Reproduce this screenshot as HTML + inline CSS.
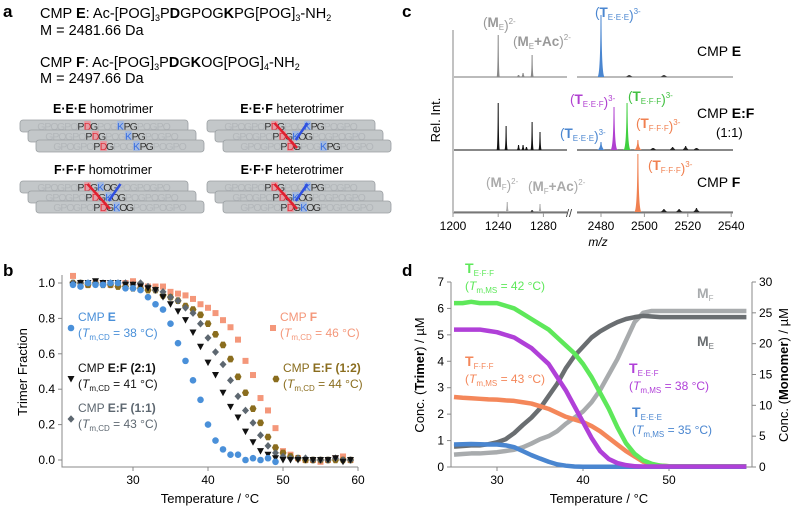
<!DOCTYPE html>
<html><head><meta charset="utf-8"><style>
body{margin:0;background:#fff}
svg{font-family:"Liberation Sans",sans-serif}
</style></head><body>
<svg id="fig" width="797" height="510" viewBox="0 0 797 510" xmlns="http://www.w3.org/2000/svg">
<g>
<text x="3" y="17" font-size="17" font-weight="bold">a</text>
<text x="40" y="18" font-size="14.5">CMP <tspan font-weight="bold">E</tspan>:  Ac-[POG]<tspan font-size="9" dy="3">3</tspan><tspan dy="-3">P</tspan><tspan font-weight="bold">D</tspan>GPOG<tspan font-weight="bold">K</tspan>PG[POG]<tspan font-size="9" dy="3">3</tspan><tspan dy="-3">-NH</tspan><tspan font-size="9" dy="3">2</tspan></text>
<text x="40" y="35" font-size="14.5">M = 2481.66 Da</text>
<text x="40" y="67" font-size="14.5">CMP <tspan font-weight="bold">F</tspan>:  Ac-[POG]<tspan font-size="9" dy="3">3</tspan><tspan dy="-3">P</tspan><tspan font-weight="bold">D</tspan>G<tspan font-weight="bold">K</tspan>OG[POG]<tspan font-size="9" dy="3">4</tspan><tspan dy="-3">-NH</tspan><tspan font-size="9" dy="3">2</tspan></text>
<text x="40" y="83" font-size="14.5">M = 2497.66 Da</text>
<g id="trimers"></g>
</g>
<g>
<text x="3" y="276" font-size="17" font-weight="bold">b</text>
<g id="bplot"></g>
</g>
<g>
<text x="402" y="17" font-size="17" font-weight="bold">c</text>
<g id="cplot"></g>
</g>
<g>
<text x="402" y="276" font-size="17" font-weight="bold">d</text>
<g id="dplot"></g>
</g>
</svg>
<script>
// ---------- Panel b data ----------
const bTemps=[22,23,24,25,26,27,28,29,30,31,32,33,34,35,36,37,38,39,40,41,42,43,44,45,46,47,48,49,50,51,52,53,54,55,56,57,58,59];
const bE=[0.99,0.98,1.0,0.99,0.99,1.0,1.0,0.97,0.97,0.96,0.92,0.88,0.85,0.77,0.66,0.56,0.45,0.34,0.2,0.11,0.06,0.03,0.03,0.0,0.01,0.0,0.01,-0.01];
const bF=[1.04,1.0,0.99,1.0,1.0,0.99,0.99,1.0,1.01,0.99,0.98,0.98,0.98,0.95,0.94,0.93,0.91,0.88,0.86,0.83,0.79,0.75,0.68,0.56,0.48,0.35,0.28,0.18,0.05,0.03,0.01,0.0,0.0,-0.01,0.0,0.01,0.02,0.0];
const b21=[0.99,1.0,1.0,1.01,1.0,1.0,1.0,0.99,0.99,0.98,0.97,0.96,0.92,0.88,0.84,0.79,0.72,0.64,0.55,0.48,0.38,0.30,0.24,0.16,0.1,0.05,0.03,0.01,0.0,0.0,0.0,0.0,0.0,0.0,0.0,0.01,-0.01,0.0];
const b11=[1.0,1.0,1.0,1.0,1.0,1.0,1.0,1.0,0.99,1.0,0.98,0.96,0.95,0.92,0.90,0.86,0.83,0.77,0.69,0.61,0.54,0.45,0.36,0.28,0.21,0.14,0.08,0.04,0.02,0.01,0.01,0.01,0.0,0.0,0.0,0.01,0.0,0.0];
const b12=[1.0,1.0,0.99,1.0,0.99,0.99,0.98,0.98,0.97,0.97,0.96,0.96,0.93,0.92,0.90,0.87,0.85,0.82,0.77,0.71,0.65,0.57,0.47,0.38,0.29,0.21,0.13,0.07,0.04,0.02,0.01,0.0,0.0,0.0,0.0,0.0,0.0,0.0];
const bXTicks=[30,40,50,60];
const bYTicks=[0.0,0.2,0.4,0.6,0.8,1.0];

// ---------- Panel d data ----------
const dTemps=[25,26,27,28,29,30,31,32,33,34,35,36,37,38,39,40,41,42,43,44,45,46,47,48,49,50,51,52,53,54,55,56,57,58,59];
const dTEFF=[6.2,6.2,6.25,6.2,6.2,6.2,6.1,6.0,5.8,5.6,5.4,5.2,4.9,4.6,4.3,3.9,3.4,2.8,2.2,1.5,0.9,0.5,0.25,0.12,0.05,0.03,0.03,0.03,0.03,0.03,0.03,0.03,0.03,0.03,0.03];
const dTEEF=[5.2,5.2,5.2,5.2,5.15,5.1,5.0,4.9,4.7,4.5,4.2,3.9,3.4,2.9,2.3,1.7,1.1,0.6,0.3,0.15,0.07,0.03,0.02,0.02,0.02,0.02,0.02,0.02,0.02,0.02,0.02,0.02,0.02,0.02,0.02];
const dTFFF=[2.65,2.62,2.6,2.58,2.56,2.55,2.52,2.5,2.45,2.4,2.3,2.2,2.05,1.9,1.8,1.7,1.55,1.35,1.1,0.85,0.6,0.4,0.2,0.1,0.05,0.03,0.03,0.03,0.03,0.03,0.03,0.03,0.03,0.03,0.03];
const dTEEE=[0.85,0.86,0.87,0.86,0.85,0.85,0.82,0.75,0.6,0.45,0.32,0.2,0.1,0.05,0.02,0.01,0.01,0.01,0.01,0.01,0.01,0.01,0.01,0.01,0.01,0.01,0.01,0.01,0.01,0.01,0.01,0.01,0.01,0.01,0.01];
const dME=[3.3,3.4,3.5,3.5,3.7,4.0,4.5,5.5,6.8,8.0,9.5,11.5,13.5,16,18,19.5,21,22,22.8,23.5,24,24.3,24.5,24.4,24.3,24.3,24.3,24.3,24.3,24.3,24.3,24.3,24.3,24.3,24.3];
const dMF=[2.0,2.1,2.2,2.2,2.3,2.4,2.6,2.8,3.2,3.8,4.5,5.0,5.8,7.0,8.0,9.0,10.5,12.5,15,17.5,20.5,23.5,25,25.3,25.3,25.3,25.3,25.3,25.3,25.3,25.3,25.3,25.3,25.3,25.3];
const dXTicks=[30,40,50];
const dYTicksL=[0,1,2,3,4,5,6,7];
const dYTicksR=[0,5,10,15,20,25,30];

// ---------- Panel c data ----------
const cXTicksL=[1200,1240,1280];
const cXTicksR=[2480,2500,2520,2540];
const cTopPeaks=[[1240,42,'#888'],[1258,2,'#888'],[1262,4,'#888'],[1270,22,'#888'],[2480,62,'#4a86d0'],[2493,2,'#444'],[2509,2,'#444']];
const cMidPeaks=[[1240,47,'#111'],[1247,24,'#111'],[1258,5,'#111'],[1262,5,'#111'],[1265,3,'#111'],[1270,28,'#111'],[1277,18,'#111'],[2480,8,'#4a86d0'],[2486,43,'#b040d0'],[2492,47,'#40d040'],[2497,10,'#f08050'],[2504,2,'#222'],[2513,3,'#222'],[2519,4,'#222'],[2524,2,'#222']];
const cBotPeaks=[[1248,10,'#aaa'],[1270,2,'#444'],[1277,8,'#aaa'],[2497,58,'#f08050'],[2509,3,'#222'],[2516,3,'#222'],[2524,4,'#222']];

const NS='http://www.w3.org/2000/svg';
function mk(tag,attrs,parent,txt){const e=document.createElementNS(NS,tag);for(const k in attrs)e.setAttribute(k,attrs[k]);if(txt!==undefined)e.textContent=txt;parent.appendChild(e);return e;}

// ---------- Panel a trimers ----------
(function(){
const g=document.getElementById('trimers');
const blocks=[[20,120,'E·E·E',' homotrimer',103,113,['E','E','E'],0],[207,120,'E·E·F',' heterotrimer',292,113,['E','F','E'],1],[20,181,'F·F·F',' homotrimer',103,174,['F','F','F'],1],[207,181,'E·F·F',' heterotrimer',292,174,['E','F','F'],1]];
const seqE='GPOGPOPDGPOGKPGPOGPO', styE='ffffffdrdfffbddfffff';
const seqF='GPOGPOPDGKOGPOGPOGPO', styF='ffffffdrdbddffffffff';
const col={f:'#b3b7ba',d:'#333',r:'#e0303c',b:'#3a6fe0'};
const cw=6.6;
blocks.forEach((b,i)=>{
 const t=mk('text',{x:b[4],y:b[5],'font-size':'12.5','text-anchor':'middle'},g);
 mk('tspan',{'font-weight':'bold'},t,b[2]);
 mk('tspan',{},t,b[3]);
 
 
 for(let r=0;r<3;r++){
  const x=b[0]+r*8,y=b[1]+r*10;
  const rc=mk('rect',{x:x,y:y,width:168,height:12,rx:3,fill:'#c3c7c9',stroke:'#9a9fa2','stroke-width':'0.8'},g);
  
  
  const isF=b[6][r]==='F';
  const seq=isF?seqF:seqE, sty=isF?styF:styE;
  const sx=x+18;
  mk('rect',{x:sx+7*cw,y:y+1,width:cw,height:10,fill:'#ef8f98',opacity:'0.75'},g);
  mk('rect',{x:sx+(isF?9:12)*cw,y:y+1,width:cw,height:10,fill:'#8fb0f0',opacity:'0.6'},g);
  const tx=mk('text',{y:y+10,'font-size':'10.5','text-anchor':'middle'},g);
  for(let k=0;k<seq.length;k++)mk('tspan',{x:sx+k*cw+cw/2,fill:col[sty[k]]},tx,seq[k]);
  
  
 }
 if(b[7]){
  mk('line',{x1:b[0]+18+7.5*cw,y1:b[1]+3,x2:b[0]+34+8.5*cw,y2:b[1]+28,stroke:'#e02030','stroke-width':'2.5'},g);
  mk('line',{x1:b[0]+18+12.5*cw,y1:b[1]+3,x2:b[0]+26+9.5*cw,y2:b[1]+20,stroke:'#3050e0','stroke-width':'2.5'},g);
 }
});
})();

// ---------- Panel b ----------
(function(){
const g=document.getElementById('bplot');
const X=t=>133+(t-30)*7.5, Y=v=>460-v*177;
const ax=mk('path',{d:`M62,275 L62,467 L358,467`,fill:'none',stroke:'#888','stroke-width':'1'},g);


bXTicks.forEach(t=>{mk('line',{x1:X(t),y1:467,x2:X(t),y2:471,stroke:'#888'},g);
 const l=mk('text',{x:X(t),y:484,'font-size':'12','text-anchor':'middle'},g,t);
 
 });
bYTicks.forEach(v=>{mk('line',{x1:58,y1:Y(v),x2:62,y2:Y(v),stroke:'#888'},g);
 const l=mk('text',{x:55,y:Y(v)+4,'font-size':'12','text-anchor':'end'},g,v.toFixed(1));
 
 });
const xt=mk('text',{x:210,y:503,'font-size':'13','text-anchor':'middle'},g,'Temperature / °C');


const yt=mk('text',{x:0,y:0,'font-size':'13','text-anchor':'middle',transform:'translate(27,372) rotate(-90)'},g,'Trimer Fraction');


function marker(shape,x,y,c){
 if(shape==='c')return mk('circle',{cx:x,cy:y,r:3.3,fill:c},g);
 if(shape==='s')return mk('rect',{x:x-3,y:y-3,width:6,height:6,fill:c},g);
 if(shape==='t')return mk('path',{d:`M${x-3.5},${y-3} L${x+3.5},${y-3} L${x},${y+3.5}Z`,fill:c},g);
 if(shape==='d')return mk('path',{d:`M${x},${y-3.8} L${x+3.5},${y} L${x},${y+3.8} L${x-3.5},${y}Z`,fill:c},g);
 return mk('path',{d:`M${x-3.5},${y} L${x-1.8},${y-3.3} L${x+1.8},${y-3.3} L${x+3.5},${y} L${x+1.8},${y+3.3} L${x-1.8},${y+3.3}Z`,fill:c},g);
}
const series=[[bF,'s','#f4977a','point-cmp-f'],[b12,'h','#8a6d1e','point-cmp-ef-12'],[b11,'d','#5d6770','point-cmp-ef-11'],[b21,'t','#111','point-cmp-ef-21'],[bE,'c','#4a90d9','point-cmp-e']];
series.forEach(s=>{s[0].forEach((v,i)=>{const m=marker(s[1],X(bTemps[i]),Y(v),s[2]);
 
 });});
const labels=[[78,321,'#4a90d9','CMP ','E','38','c'],[78,372,'#111','CMP ','E:F (2:1)','41','t'],[78,412,'#5d6770','CMP ','E:F (1:1)','43','d'],[280,321,'#f4977a','CMP ','F','46','s'],[283,372,'#8a6d1e','CMP ','E:F (1:2)','44','h']];
labels.forEach(L=>{
 const m=marker(L[6],L[0]-7,L[1]+7,L[2]);
 
 
 const t=mk('text',{x:L[0],y:L[1],'font-size':'12',fill:L[2]},g);
 mk('tspan',{},t,L[3]);mk('tspan',{'font-weight':'bold'},t,L[4]);
 
 
 const t2=mk('text',{x:L[0],y:L[1]+16,'font-size':'12',fill:L[2]},g);
 mk('tspan',{},t2,'(');mk('tspan',{'font-style':'italic'},t2,'T');mk('tspan',{'font-size':'8',dy:'3'},t2,'m,CD');mk('tspan',{dy:'-3'},t2,' = '+L[5]+' °C)');
 
 
});
})();

// ---------- Panel c ----------
(function(){
const g=document.getElementById('cplot');
const XL=m=>453+(m-1200)*1.13, XR=m=>601+(m-2480)*2.17;
const X=m=>m<2000?XL(m):XR(m);
const base=[77,150,212];
const ya=mk('line',{x1:453,y1:30,x2:453,y2:213,stroke:'#999','stroke-width':'1.2'},g);


[[453,567],[577,733]].forEach(r=>{const l=mk('line',{x1:r[0],y1:213,x2:r[1],y2:213,stroke:'#999','stroke-width':'1.2'},g);
 
 });
mk('text',{x:566,y:217,'font-size':'11',fill:'#333'},g,'//');
cXTicksL.concat(cXTicksR).forEach(t=>{mk('line',{x1:X(t),y1:213,x2:X(t),y2:217,stroke:'#999'},g);
 const l=mk('text',{x:X(t),y:230,'font-size':'12','text-anchor':'middle'},g,t);
 
 });
const xt=mk('text',{x:598,y:246,'font-size':'12','text-anchor':'middle','font-style':'italic'},g,'m/z');


const yt=mk('text',{x:0,y:0,'font-size':'13','text-anchor':'middle',transform:'translate(440,120) rotate(-90)'},g,'Rel. Int.');


[[base[0],'#777'],[base[1],'#111'],[base[2],'#555']].forEach(b=>{
 [[454,567],[577,733]].forEach(r=>{const l=mk('line',{x1:r[0],y1:b[0],x2:r[1],y2:b[0],stroke:b[1],'stroke-width':'1'},g);
 
 });});
[[cTopPeaks,base[0]],[cMidPeaks,base[1]],[cBotPeaks,base[2]]].forEach(set=>{
 set[0].forEach(p=>{const x=X(p[0]),w=p[0]>2000?3.5:1.6;
  const pk=mk('path',{d:`M${x-w},${set[1]} Q${x-0.6},${set[1]-2} ${x-0.5},${set[1]-p[1]} L${x+0.5},${set[1]-p[1]} Q${x+0.6},${set[1]-2} ${x+w},${set[1]}Z`,fill:p[2]},g);
  
  });});
function lab(x,y,c,main,sub,sup,extra){
 const t=mk('text',{x:x,y:y,'font-size':'13.5',fill:c},g);
 mk('tspan',{},t,'(');mk('tspan',{'font-weight':'bold'},t,main);
 mk('tspan',{'font-size':'8',dy:'3'},t,sub);
 mk('tspan',{dy:'-3','font-weight':'bold'},t,extra?extra:'');
 mk('tspan',{},t,')');
 mk('tspan',{'font-size':'8',dy:'-6'},t,sup);
 
 
}
lab(483,27,'#999','M','E','2-');
lab(513,46,'#999','M','E','2-','+Ac');
lab(595,17,'#4a86d0','T','E·E·E','3-');
lab(570,104,'#b040d0','T','E·E·F','3-');
lab(628,101,'#40c040','T','E·F·F','3-');
lab(560,138,'#4a86d0','T','E·E·E','3-');
lab(636,128,'#f08050','T','F·F·F','3-');
lab(648,170,'#f08050','T','F·F·F','3-');
lab(486,187,'#aaa','M','F','2-');
lab(528,191,'#aaa','M','F','2-','+Ac');
const ct=[[697,56,'CMP ','E'],[697,118,'CMP ','E:F'],[697,187,'CMP ','F']];
ct.forEach(c=>{const t=mk('text',{x:c[0],y:c[1],'font-size':'14'},g);mk('tspan',{},t,c[2]);mk('tspan',{'font-weight':'bold'},t,c[3]);
 
 });
mk('text',{x:716,y:137,'font-size':'13'},g,'(1:1)');
})();

// ---------- Panel d ----------
(function(){
const g=document.getElementById('dplot');
const X=t=>497+(t-30)*8.6, YL=v=>467-v*26.43, YR=v=>467-v*6.167;
const ax=mk('path',{d:`M451,282 L451,467 L752,467 L752,282`,fill:'none',stroke:'#888','stroke-width':'1'},g);


dXTicks.forEach(t=>{mk('line',{x1:X(t),y1:467,x2:X(t),y2:471,stroke:'#888'},g);
 const l=mk('text',{x:X(t),y:484,'font-size':'12','text-anchor':'middle'},g,t);
 
 });
dYTicksL.forEach(v=>{mk('line',{x1:447,y1:YL(v),x2:451,y2:YL(v),stroke:'#888'},g);
 const l=mk('text',{x:444,y:YL(v)+4,'font-size':'12','text-anchor':'end'},g,v);
 
 });
dYTicksR.forEach(v=>{mk('line',{x1:752,y1:YR(v),x2:756,y2:YR(v),stroke:'#888'},g);
 const l=mk('text',{x:759,y:YR(v)+4,'font-size':'12'},g,v);
 
 });
const xt=mk('text',{x:599,y:503,'font-size':'13','text-anchor':'middle'},g,'Temperature / °C');


const yl=mk('text',{x:0,y:0,'font-size':'13','text-anchor':'middle',transform:'translate(424,375) rotate(-90)'},g);
mk('tspan',{},yl,'Conc. (');mk('tspan',{'font-weight':'bold'},yl,'Trimer');mk('tspan',{},yl,') / µM');


const yr=mk('text',{x:0,y:0,'font-size':'13','text-anchor':'middle',transform:'translate(788,375) rotate(-90)'},g);
mk('tspan',{},yr,'Conc. (');mk('tspan',{'font-weight':'bold'},yr,'Monomer');mk('tspan',{},yr,') / µM');


const lines=[[dMF,YR,'#a8abad','line-monomer-f'],[dME,YR,'#6a6e71','line-monomer-e'],[dTFFF,YL,'#f4875a','line-trimer-fff'],[dTEEE,YL,'#4a86d0','line-trimer-eee'],[dTEFF,YL,'#5ee85a','line-trimer-eff'],[dTEEF,YL,'#b040d8','line-trimer-eef']];
lines.forEach(L=>{const pts=L[0].map((v,i)=>X(dTemps[i])+','+L[1](v)).join(' ');
 const p=mk('polyline',{points:pts,fill:'none',stroke:L[2],'stroke-width':'4.5','stroke-linejoin':'round'},g);
 
 });
function lab(x,y,c,sub,tm){
 const t=mk('text',{x:x,y:y,'font-size':'14',fill:c},g);
 mk('tspan',{'font-weight':'bold'},t,'T');mk('tspan',{'font-size':'8',dy:'3'},t,sub);
 
 
 const t2=mk('text',{x:x,y:y+17,'font-size':'12',fill:c},g);
 mk('tspan',{},t2,'(');mk('tspan',{'font-style':'italic'},t2,'T');mk('tspan',{'font-size':'8',dy:'3'},t2,'m,MS');mk('tspan',{dy:'-3'},t2,' = '+tm+' °C)');
 
 
}
lab(465,273,'#5ee85a','E·F·F','42');
lab(465,366,'#f4875a','F·F·F','43');
lab(629,373,'#b040d8','E·E·F','38');
lab(632,417,'#4a86d0','E·E·E','35');
[[697,298,'#a8abad','F'],[697,346,'#6a6e71','E']].forEach(m=>{const t=mk('text',{x:m[0],y:m[1],'font-size':'14',fill:m[2],'font-weight':'bold'},g);
 mk('tspan',{},t,'M');mk('tspan',{'font-size':'8',dy:'3','font-weight':'normal'},t,m[3]);
 
 });
})();
</script>
</body></html>
